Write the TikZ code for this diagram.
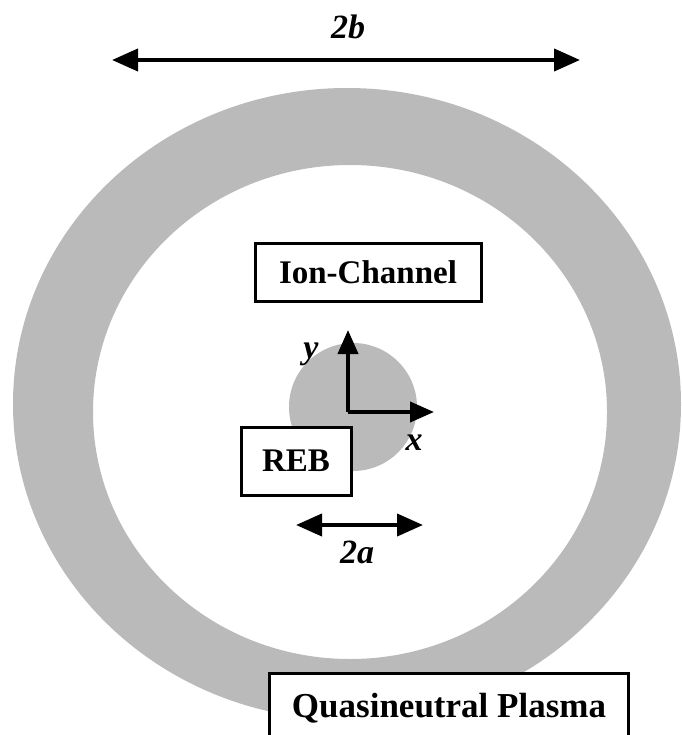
\documentclass[tikz,border=0pt]{standalone}
\usepackage{fontspec}
\setmainfont{Liberation Serif}
\usetikzlibrary{arrows.meta}
\tikzset{
  boxnode/.style={draw, line width=3pt, fill=white, font=\fontsize{33}{36}\selectfont\bfseries, inner sep=0pt},
  bigarrow/.style={line width=4pt, {Triangle[length=26pt,width=22pt]}-{Triangle[length=26pt,width=22pt]}},
  axarrow/.style={line width=4pt, -{Triangle[length=24pt,width=20pt]}},
  lab/.style={font=\fontsize{34}{36}\selectfont\bfseries\itshape, inner sep=0pt},
  shade/.style={fill=black!27}
}
\begin{document}
\begin{tikzpicture}[x=1pt,y=-1pt]
\useasboundingbox (0,0) rectangle (681,735);
% outer ring
\fill[shade, even odd rule] (347,404) ellipse [x radius=334, y radius=316]
  (350,412) ellipse [x radius=257, y radius=247];
% inner beam
\fill[shade] (353,407) circle [radius=64];
% 2b arrow
\coordinate (bl) at (112,60);
\coordinate (br) at (580,60);
\draw[bigarrow] (bl) -- (br);
\node[lab] (lb) at (348,27) {2b};
% ion channel box
\node[boxnode, minimum width=226pt, minimum height=58pt] (ic) at (368,272) {Ion-Channel};
% axes
\coordinate (o) at (348,412);
\coordinate (ytip) at (348,330);
\coordinate (xtip) at (434,412);
\draw[axarrow] (o) -- (ytip);
\draw[axarrow] (o) -- (xtip);
\node[lab] (ly) at (311,354) {y};
\node[lab] (lx) at (414,443) {x};
% REB box
\node[boxnode, minimum width=110pt, minimum height=68pt] (reb) at (296,461) {REB};
% 2a arrow
\coordinate (al) at (296,525);
\coordinate (ar) at (423,525);
\draw[bigarrow] (al) -- (ar);
\node[lab] (la) at (357,552) {2a};
% quasineutral plasma box
\node[boxnode, font=\fontsize{35}{38}\selectfont\bfseries, anchor=north west, minimum width=359pt, minimum height=90pt, text depth=50pt, inner ysep=20pt] (qp) at (268,672) {Quasineutral Plasma};
\end{tikzpicture}
\end{document}
